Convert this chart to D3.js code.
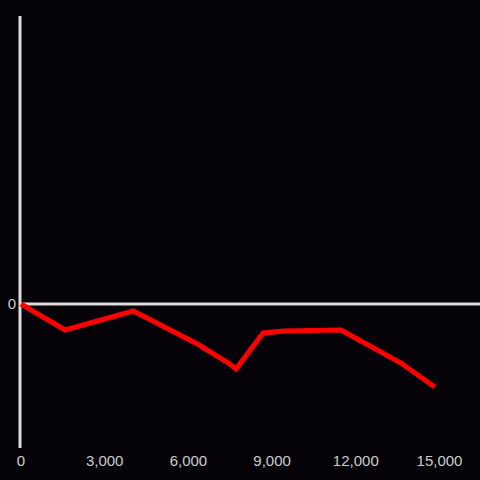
<!DOCTYPE html>
<html>
<head>
<meta charset="utf-8">
<script src="https://cdn.jsdelivr.net/npm/d3@7"></script>
<style>
  html, body { margin: 0; padding: 0; background: #050307; }
</style>
</head>
<body>
<div id="chart"></div>
<script>
// data
var xValues = [0, 1580, 4025, 6325, 7440, 7710, 8680, 9420, 11470, 13620, 14830];
var yValues = [0, -26, -7, -40, -59, -65, -29, -27, -26, -59, -83];
var xTicks = [0, 3000, 6000, 9000, 12000, 15000];
var yTicks = [0];

var w = 480, h = 480;

var svg = d3.select("#chart")
    .append("svg")
    .attr("width", w)
    .attr("height", h)
    .style("background", "#050307");

var x = d3.scaleLinear()
    .domain([0, 15000])
    .range([21, 439.5]);

var y = d3.scaleLinear()
    .domain([-144, 288])
    .range([448, 16]);

// vertical axis line
svg.append("line")
    .attr("x1", 20).attr("x2", 20)
    .attr("y1", y(288)).attr("y2", y(-144))
    .attr("stroke", "#dcdcdc")
    .attr("stroke-width", 3);

// zero line
svg.selectAll("line.zero")
    .data(yTicks)
    .enter()
    .append("line")
    .attr("class", "zero")
    .attr("x1", 20).attr("x2", w)
    .attr("y1", function (d) { return y(d); })
    .attr("y2", function (d) { return y(d); })
    .attr("stroke", "#dcdcdc")
    .attr("stroke-width", 3);

svg.selectAll("text.ylab")
    .data(yTicks)
    .enter()
    .append("text")
    .attr("class", "ylab")
    .attr("x", 16)
    .attr("y", function (d) { return y(d); })
    .attr("dy", "0.35em")
    .attr("text-anchor", "end")
    .attr("fill", "#cccccc")
    .style("font-family", "Liberation Sans, Arial, sans-serif")
    .style("font-size", "15px")
    .text(function (d) { return d3.format(",")(d); });

svg.selectAll("text.xlab")
    .data(xTicks)
    .enter()
    .append("text")
    .attr("class", "xlab")
    .attr("x", function (d) { return x(d); })
    .attr("y", 466)
    .attr("text-anchor", "middle")
    .attr("fill", "#cccccc")
    .style("font-family", "Liberation Sans, Arial, sans-serif")
    .style("font-size", "15px")
    .text(function (d) { return d3.format(",")(d); });

var line = d3.line()
    .x(function (d, i) { return x(xValues[i]); })
    .y(function (d) { return y(d); });

svg.append("path")
    .datum(yValues)
    .attr("d", line)
    .attr("fill", "none")
    .attr("stroke", "#ff0000")
    .attr("stroke-width", 5)
    .attr("stroke-linejoin", "miter");
</script>
</body>
</html>
